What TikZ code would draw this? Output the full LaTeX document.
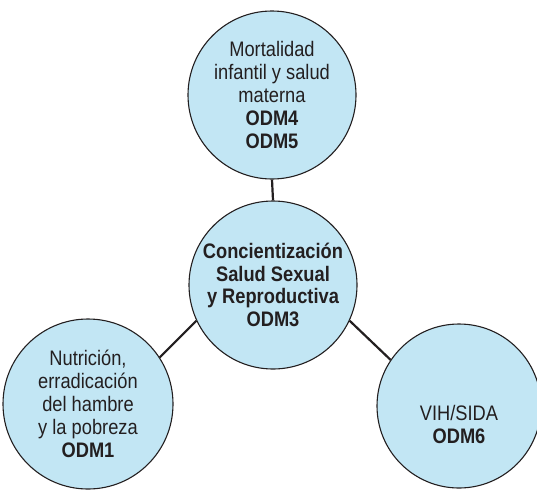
\documentclass[tikz,border=0pt]{standalone}
\usepackage{fontspec}
\setmainfont{Liberation Sans}[FakeStretch=0.87]
\definecolor{bubble}{HTML}{C2E6F4}
\definecolor{ink}{HTML}{231F20}
\begin{document}
\begin{tikzpicture}[x=1pt,y=-1pt,
  bub/.style={circle,draw=ink,line width=1.1pt,fill=bubble,minimum size=168pt,inner sep=0pt,
    align=center,text=ink,font=\fontsize{21}{23}\selectfont},
  txt/.style={align=center,text=ink,font=\fontsize{21}{23}\selectfont},
  link/.style={draw=ink,line width=2.2pt}]
\useasboundingbox (0,0) rectangle (537,490);
\node[bub] (t) at (272,95) {Mortalidad\\infantil y salud\\materna\\\textbf{ODM4}\\\textbf{ODM5}};
\node[bub,font=\fontsize{21}{22.5}\selectfont\bfseries] (c) at (273,285) {Concientización\\Salud Sexual\\y Reproductiva\\ODM3};
\node[bub,minimum size=170pt] (l) at (88,404) {Nutrición,\\erradicación\\del hambre\\y la pobreza\\\textbf{ODM1}};
\node[bub,minimum size=164pt] (r) at (459,406) {};
\node[txt] (rt) at (459,424) {VIH/SIDA\\\textbf{ODM6}};
\draw[link] (t.south) -- (c.north);
\draw[link] (l.33) -- (c.205);
\draw[link] (c.335) -- (r.146);
\end{tikzpicture}
\end{document}
